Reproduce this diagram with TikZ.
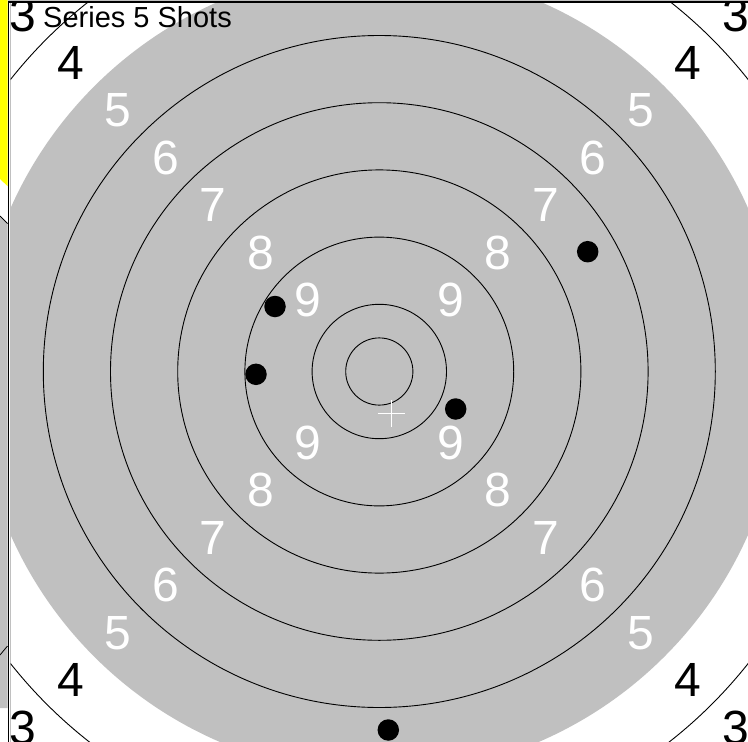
\documentclass[tikz,border=0pt]{standalone}
\usepackage{fontspec}
\setmainfont{Liberation Sans}
\usetikzlibrary{positioning}
\definecolor{targetgrey}{RGB}{192,192,192}
\definecolor{paneyellow}{RGB}{255,255,0}

\begin{document}
\begin{tikzpicture}[
    x=1pt,y=-1pt,
    ringline/.style={draw=black,line width=0.9pt},
    ringlabel/.style={inner sep=0pt,font=\fontsize{48}{48}\selectfont},
    shot/.style={circle,fill=black,inner sep=0pt,minimum size=21.5pt},
    title/.style={inner sep=0pt,anchor=base west,font=\fontsize{29}{29}\selectfont},
    aimline/.style={draw=white,line width=1pt}
  ]
    \useasboundingbox (0,0) rectangle (748,742);
    \fill[white] (0,0) rectangle (748,742);

    \fill[paneyellow] (0,0) -- (7.5,0) -- (7.5,186) -- (0,179) -- cycle;
    \fill[targetgrey] (0,217) -- (7.5,224) -- (7.5,708) -- (0,708) -- cycle;
    \draw[line width=0.8pt] (0,216) -- (7.5,223.5);
    \draw[line width=0.8pt] (0,655) -- (7.5,646);
    \draw[line width=1.5pt] (8.5,0) -- (8.5,742);
    \draw[targetgrey,line width=0.8pt] (10,0) -- (10,742);
    \draw[targetgrey,line width=0.8pt] (8,0.5) -- (748,0.5);
    \draw[line width=1.2pt] (8,2) -- (748,2);

    \coordinate (ctr) at (379.3,371.5);
    \begin{scope}
      \clip (10.5,3) rectangle (748,742);
      \fill[targetgrey] (ctr) circle[radius=403.2pt];
      \foreach \r in {0.5,1,2,3,4,5,7}
        \draw[ringline] (ctr) circle[radius=\r*67.2pt];
      \foreach \n/\c in {3/black,4/black,5/white,6/white,7/white,8/white,9/white}
        \foreach \a in {45,135,225,315}
          \path (ctr) ++(\a:{(10.5-\n)*67.2pt}) node[ringlabel,text=\c] (lbl\n-\a) {\n};

      \coordinate (aim) at (391,413.3);
      \draw[aimline] ([xshift=-13.5pt]aim) -- ([xshift=13.5pt]aim);
      \draw[aimline] ([yshift=-13.5pt]aim) -- ([yshift=13.5pt]aim);

      \node[shot] (shot1) at (275,306.5) {};
      \node[shot] (shot2) at (256,374.3) {};
      \node[shot] (shot3) at (455.7,409) {};
      \node[shot] (shot4) at (587.7,251.7) {};
      \node[shot] (shot5) at (388.3,730) {};
    \end{scope}

    \node[title] (series) at (43,27.3) {Series 5 Shots};
  \end{tikzpicture}
\end{document}
